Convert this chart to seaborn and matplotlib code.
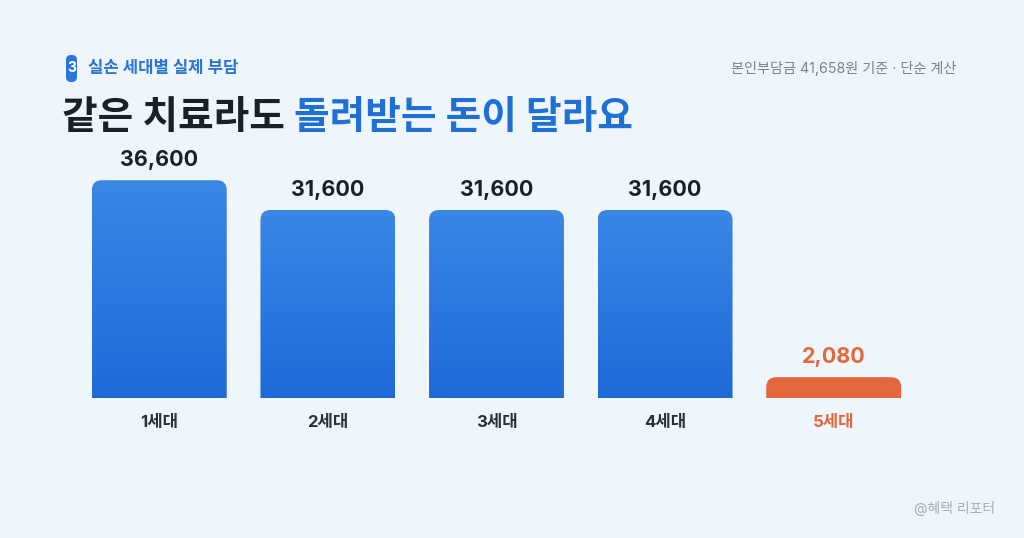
import numpy as np
import pandas as pd
import matplotlib
matplotlib.use('Agg')
import matplotlib.pyplot as plt
from matplotlib.patches import FancyBboxPatch
from matplotlib.colors import LinearSegmentedColormap
import seaborn as sns

# data
generations = ['1세대', '2세대', '3세대', '4세대', '5세대']
refund_amounts = [36600, 31600, 31600, 31600, 2080]
value_labels = ['36,600', '31,600', '31,600', '31,600', '2,080']

sns.set_theme(style='white')
plt.rcParams['font.family'] = ['Inter', 'Noto Sans CJK KR', 'DejaVu Sans']

bg = '#eef5fb'
blue_top, blue_bot = '#3b87e6', '#1f69d8'
orange = '#e2673d'
dark = '#1b1f27'

fig = plt.figure(figsize=(10.24, 5.38), dpi=100, facecolor=bg)
W, H = 1024, 538
# axes: x range [-0.5, 4.5] spans px 75..918, y 0 at px 398, 40000 at px 160
ax = fig.add_axes([75 / W, (H - 398) / H, (918 - 75) / W, (398 - 160) / H])
ax.set_facecolor(bg)

# the original chart keeps a minimum visible bar height
min_visible = 3500
df = pd.DataFrame({'gen': generations,
                   'amount': [max(v, min_visible) for v in refund_amounts]})
sns.barplot(data=df, x='gen', y='amount', ax=ax, width=0.8, color=blue_bot)
ax.set_xlim(-0.5, 4.5)
ax.set_ylim(0, 40000)

# rounded tops with gradient fill
x_per_px = 5 / (918 - 75)
y_per_px = 40000 / (398 - 160)
r = 10 * x_per_px
grad = LinearSegmentedColormap.from_list('g', [blue_bot, blue_top])
patches = list(ax.patches)
for i, p in enumerate(patches):
    x0, w, h = p.get_x(), p.get_width(), p.get_height()
    p.set_visible(False)
    box = FancyBboxPatch((x0, -2000), w, h + 2000,
                         boxstyle=f'round,pad=0,rounding_size={r}',
                         mutation_aspect=y_per_px / x_per_px,
                         linewidth=0, facecolor='none', zorder=2)
    ax.add_patch(box)
    if i == 4:
        box.set_facecolor(orange)
    else:
        img = ax.imshow(np.linspace(0, 1, 256).reshape(-1, 1), cmap=grad,
                        extent=[x0, x0 + w, 0, h], origin='lower',
                        aspect='auto', zorder=2)
        img.set_clip_path(box)
    ax.text(i, h + 10 * y_per_px, value_labels[i], ha='center', va='bottom',
            fontsize=15.5, fontweight='bold',
            color=orange if i == 4 else dark)
ax.set_aspect('auto')
ax.set_xlim(-0.5, 4.5)
ax.set_ylim(0, 40000)

ax.set_xlabel('')
ax.set_ylabel('')
ax.set_yticks([])
ax.set_xticks(range(5))
ax.set_xticklabels(generations, fontsize=12, fontweight='bold')
for i, t in enumerate(ax.get_xticklabels()):
    t.set_color(orange if i == 4 else '#2b3038')
ax.tick_params(axis='x', length=0, pad=12)
sns.despine(ax=ax, left=True, bottom=True)

# header
badge = FancyBboxPatch((66 / W, 1 - 82 / H), 11 / W, 27 / H,
                       boxstyle='round,pad=0,rounding_size=0.005',
                       transform=fig.transFigure, facecolor='#2a74dc',
                       linewidth=0, mutation_aspect=W / H)
fig.patches.append(badge)
fig.text(71.5 / W, 1 - 68 / H, '3', ha='center', va='center', color='white',
         fontsize=10, fontweight='bold')
fig.text(88 / W, 1 - 68 / H, '실손 세대별 실제 부담', ha='left', va='center',
         color='#2a74d8', fontsize=12, fontweight='bold')
fig.text(956 / W, 1 - 68 / H, '본인부담금 41,658원 기준 · 단순 계산', ha='right',
         va='center', color='#7b828c', fontsize=10.2)

t1 = fig.text(62 / W, 1 - 118 / H, '같은 치료라도 ', ha='left', va='center',
              color=dark, fontsize=27.9, fontweight='bold')
fig.canvas.draw()
bb = t1.get_window_extent()
fig.text(bb.x1 / W, 1 - 118 / H, '돌려받는 돈이 달라요', ha='left', va='center',
         color='#1f6fd6', fontsize=27.9, fontweight='bold')

fig.text(995 / W, 1 - 508 / H, '@혜택 리포터', ha='right', va='center',
         color='#a9aeb6', fontsize=10)

fig.savefig('out.png', dpi=100, facecolor=bg)
